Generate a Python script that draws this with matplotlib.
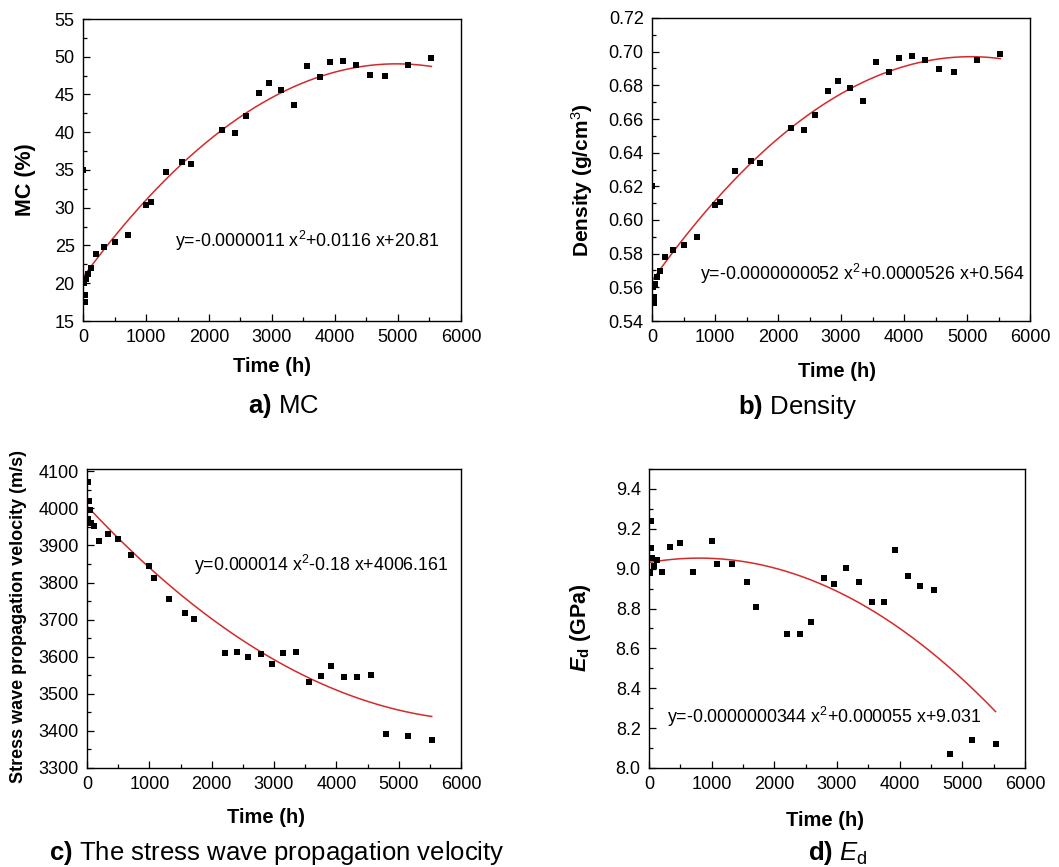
import numpy as np
import matplotlib
matplotlib.use("Agg")
import matplotlib.pyplot as plt
from matplotlib.ticker import MultipleLocator, FormatStrFormatter

plt.rcParams['font.family'] = ['Liberation Sans', 'DejaVu Sans']
plt.rcParams['mathtext.fontset'] = 'custom'
plt.rcParams['mathtext.rm'] = 'Liberation Sans'
plt.rcParams['mathtext.it'] = 'Liberation Sans:italic'
plt.rcParams['mathtext.bf'] = 'Liberation Sans:bold'
plt.rcParams['mathtext.bfit'] = 'Liberation Sans:italic:bold'

# ---------------- data ----------------
time_h = [0, 10, 24, 36, 48, 72, 120, 200, 330, 500, 710, 1000, 1080, 1320, 1570, 1710,
          2210, 2410, 2590, 2790, 2960, 3150, 3355, 3555, 3755, 3920, 4125, 4330, 4550,
          4800, 5155, 5530]

mc = [35.0, 20.0, 17.5, 18.4, 20.5, 21.2, 22.0, 23.9, 24.85, 25.4, 26.4, 30.35, 30.8, 34.8,
      36.0, 35.8, 40.3, 39.95, 42.1, 45.2, 46.5, 45.6, 43.6, 48.8, 47.3, 49.3, 49.5, 48.9,
      47.6, 47.4, 48.9, 49.8]

density = [0.620, 0.560, 0.5505, 0.554, 0.562, 0.566, 0.570, 0.578, 0.582, 0.5853, 0.590,
           0.6092, 0.6106, 0.629, 0.635, 0.6338, 0.6547, 0.6537, 0.6626, 0.6767, 0.6826,
           0.6787, 0.6709, 0.6937, 0.6877, 0.6964, 0.6976, 0.6951, 0.6897, 0.6877, 0.6953,
           0.6986]

velocity = [np.nan, 3971, 4071, 4019, 3996, 3960, 3951, 3912, 3930, 3918, 3873, 3844, 3811,
            3756, 3718, 3702, 3611, 3614, 3598, 3608, 3580, 3610, 3614, 3532, 3548, 3574,
            3545, 3544, 3552, 3392, 3386, 3375]

ed = [np.nan, 8.977, 9.103, 9.241, 9.052, 9.011, 9.044, 8.982, 9.111, 9.131, 8.982, 9.141,
      9.024, 9.024, 8.932, 8.810, 8.672, 8.672, 8.730, 8.952, 8.922, 9.004, 8.932, 8.832,
      8.832, 9.094, 8.961, 8.912, 8.892, 8.070, 8.142, 8.122]

# quadratic fit coefficients (a, b, c) for the red curves
fit_mc = [-1.14e-6, 0.01135, 20.81]
fit_density = [-5.2e-9, 5.26e-5, 0.564]
fit_velocity = [1.4e-5, -0.18, 4006.161]
fit_ed = [-3.44e-8, 5.5e-5, 9.031]
fit_range = [0, 5530]

eq_mc = r'y=-0.0000011 x$^{2}$+0.0116 x+20.81'
eq_density = r'y=-0.0000000052 x$^{2}$+0.0000526 x+0.564'
eq_velocity = r'y=0.000014 x$^{2}$-0.18 x+4006.161'
eq_ed = r'y=-0.0000000344 x$^{2}$+0.000055 x+9.031'

# ---------------- figure ----------------
W, H = 1059, 867
fig = plt.figure(figsize=(W / 100, H / 100), dpi=100)
fig.patch.set_facecolor('white')


def px_axes(l, t, r, b):
    return fig.add_axes([l / W, 1 - b / H, (r - l) / W, (b - t) / H])


panels = [
    dict(box=(83, 19, 461, 321), y=mc, fit=fit_mc, ylim=(15, 55), major=5, minor=2.5, fmt='%d',
         ylabel='MC (%)', ylabsize=15.5, ylc=(-0.151, 0.467), xlc=(0.5, -0.152),
         eq=eq_mc, eqpos=(1460, 25.6)),
    dict(box=(652, 18, 1030, 321), y=density, fit=fit_density, ylim=(0.54, 0.72), major=0.02,
         minor=0.01, fmt='%.2f', ylabel=r'Density (g/cm$^{3}$)', ylabsize=15.0,
         ylc=(-0.185, 0.464), xlc=(0.49, -0.168), eq=eq_density, eqpos=(762, 0.5679)),
    dict(box=(87, 469, 461, 768), y=velocity, fit=fit_velocity, ylim=(3300, 4106), major=100,
         minor=50, fmt='%d', ylabel='Stress wave propagation velocity (m/s)', ylabsize=13.0,
         ylc=(-0.184, 0.508), xlc=(0.479, -0.167), eq=eq_velocity, eqpos=(1717, 3847)),
    dict(box=(649, 469, 1025, 768), y=ed, fit=fit_ed, ylim=(8.0, 9.5), major=0.2, minor=0.1,
         fmt='%.1f', ylabel=r'$\mathbfit{E}_{\mathbf{d}}$ (GPa)', ylabsize=15.5,
         ylc=(-0.183, 0.468), xlc=(0.468, -0.174), eq=eq_ed, eqpos=(287, 8.257)),
]

xfit = np.linspace(fit_range[0], fit_range[1], 300)

for p in panels:
    ax = px_axes(*p['box'])
    ax.scatter(time_h, p['y'], marker='s', s=24, color='black', zorder=3, linewidths=0)
    ax.plot(xfit, np.polyval(p['fit'], xfit), color='#d42a2a', lw=1.1, zorder=2)
    ax.set_xlim(0, 6000)
    ax.set_ylim(*p['ylim'])
    ax.xaxis.set_major_locator(MultipleLocator(1000))
    ax.xaxis.set_minor_locator(MultipleLocator(500))
    ax.yaxis.set_major_locator(MultipleLocator(p['major']))
    ax.yaxis.set_minor_locator(MultipleLocator(p['minor']))
    ax.yaxis.set_major_formatter(FormatStrFormatter(p['fmt']))
    ax.tick_params(which='both', direction='in', top=False, right=False, labelsize=13,
                   width=0.9, colors='black', pad=6)
    ax.tick_params(which='major', length=5)
    ax.tick_params(which='minor', length=3)
    for s in ax.spines.values():
        s.set_linewidth(1.0)
        s.set_color('black')
    ax.set_xlabel('Time (h)', fontsize=14.5, fontweight='bold', va='center')
    ax.xaxis.set_label_coords(*p['xlc'])
    ax.set_ylabel(p['ylabel'], fontsize=p['ylabsize'], fontweight='bold', va='center')
    ax.yaxis.set_label_coords(*p['ylc'])
    ax.text(p['eqpos'][0], p['eqpos'][1], p['eq'], fontsize=12.8, ha='left', va='center')

captions = [
    (283 / W, 1 - 406 / H, r'$\mathbf{a)}$ MC'),
    (797.5 / W, 1 - 407 / H, r'$\mathbf{b)}$ Density'),
    (277 / W, 1 - 853 / H, r'$\mathbf{c)}$ The stress wave propagation velocity'),
    (838 / W, 1 - 853 / H, r'$\mathbf{d)}$ $\mathit{E}_{\mathrm{d}}$'),
]
for x, y, t in captions:
    fig.text(x, y, t, fontsize=18.5, ha='center', va='center')

fig.savefig('out.png', dpi=100, facecolor='white')
